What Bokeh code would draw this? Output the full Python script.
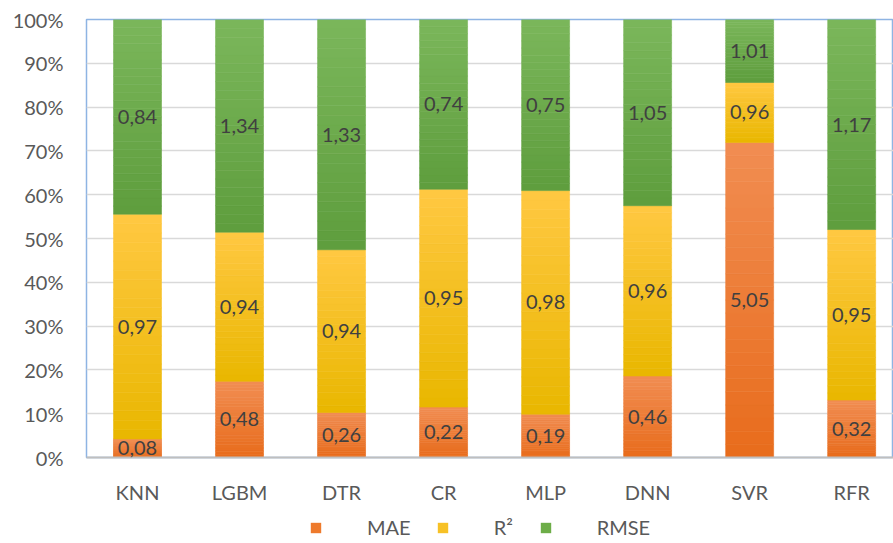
from bokeh.plotting import figure
from bokeh.layouts import column
from bokeh.models import (ColumnDataSource, FixedTicker, PrintfTickFormatter, Range1d,
                          Legend, LegendItem, LabelSet)
from bokeh.core.properties import value
from bokeh.embed import file_html
from bokeh.resources import INLINE

categories = ["KNN", "LGBM", "DTR", "CR", "MLP", "DNN", "SVR", "RFR"]
mae = [0.08, 0.48, 0.26, 0.22, 0.19, 0.46, 5.05, 0.32]
r2 = [0.97, 0.94, 0.94, 0.95, 0.98, 0.96, 0.96, 0.95]
rmse = [0.84, 1.34, 1.33, 0.74, 0.75, 1.05, 1.01, 1.17]
series_names = ["MAE", "R²", "RMSE"]
y_ticks = [0, 10, 20, 30, 40, 50, 60, 70, 80, 90, 100]

# (top colour, bottom colour, legend colour) per series
grad = [("#F18D52", "#E86C1C", "#EE7A2C"),
        ("#FFC842", "#E9B700", "#F7C126"),
        ("#7BB75B", "#5E9D3D", "#6DAD48")]
FONT = "Lato"
NSLICE = 24

x = list(range(len(categories)))
tot = [a + b + c for a, b, c in zip(mae, r2, rmse)]
p_mae = [a / t * 100 for a, t in zip(mae, tot)]
p_r2 = [b / t * 100 for b, t in zip(r2, tot)]

def fmt(v):
    return f"{v:.2f}".replace(".", ",")

def hex2rgb(h):
    return tuple(int(h[i:i + 2], 16) for i in (1, 3, 5))

def mix(c1, c2, t):
    a, b = hex2rgb(c1), hex2rgb(c2)
    return "#%02x%02x%02x" % tuple(round(a[i] + (b[i] - a[i]) * t) for i in range(3))

b0 = [0] * len(x)
t0 = p_mae
b1 = t0
t1 = [a + b for a, b in zip(p_mae, p_r2)]
b2 = t1
t2 = [100] * len(x)

p = figure(width=893, height=510, output_backend="svg", toolbar_location=None,
           x_range=Range1d(-0.5, 7.41), y_range=Range1d(0, 100),
           min_border_left=86, min_border_top=19, min_border_right=0, min_border_bottom=53)
p.outline_line_color = "#8EB4E3"
p.outline_line_width = 1.5

for (bot, top, vals), (ctop, cbot, _) in zip([(b0, t0, mae), (b1, t1, r2), (b2, t2, rmse)], grad):
    xs, bs, ts, cs = [], [], [], []
    for i in range(len(x)):
        h = top[i] - bot[i]
        for k in range(NSLICE):
            xs.append(x[i])
            bs.append(bot[i] + h * k / NSLICE)
            ts.append(bot[i] + h * (k + 1) / NSLICE)
            cs.append(mix(cbot, ctop, (k + 0.5) / NSLICE))
    gsrc = ColumnDataSource(dict(x=xs, bottom=bs, top=ts, c=cs))
    p.vbar(x="x", bottom="bottom", top="top", width=0.47, source=gsrc,
           fill_color="c", line_color="c", line_width=0.6)
    src = ColumnDataSource(dict(x=x, mid=[(a + b) / 2 for a, b in zip(bot, top)],
                                lab=[fmt(v) for v in vals]))
    ls = LabelSet(x="x", y="mid", text="lab", source=src, text_align="center",
                  text_baseline="middle", text_font=value(FONT), text_font_size="20px",
                  text_color="#404040")
    p.add_layout(ls)

p.xaxis.ticker = FixedTicker(ticks=x)
p.xaxis.major_label_overrides = {i: c for i, c in enumerate(categories)}
p.xaxis.major_tick_line_color = None
p.xaxis.minor_tick_line_color = None
p.xaxis.axis_line_color = "#BFBFBF"
p.xaxis.axis_line_width = 2
p.xaxis.major_label_text_font = FONT
p.xaxis.major_label_text_font_size = "20px"
p.xaxis.major_label_text_color = "#595959"
p.xaxis.major_label_standoff = 16

p.yaxis.ticker = FixedTicker(ticks=y_ticks)
p.yaxis.formatter = PrintfTickFormatter(format="%d%%")
p.yaxis.major_tick_line_color = None
p.yaxis.minor_tick_line_color = None
p.yaxis.axis_line_color = None
p.yaxis.major_label_text_font = FONT
p.yaxis.major_label_text_font_size = "20px"
p.yaxis.major_label_text_color = "#595959"
p.yaxis.major_label_standoff = 17

p.xgrid.grid_line_color = None
p.ygrid.grid_line_color = "#D9D9D9"
p.ygrid.grid_line_width = 1.5

# legend strip below the chart
lg = figure(width=893, height=33, output_backend="svg", toolbar_location=None,
            x_range=Range1d(0, 1), y_range=Range1d(0, 1), x_axis_type=None, y_axis_type=None,
            min_border=0)
lg.outline_line_color = None
lg.grid.visible = False
items = []
for name, (_, _, c) in zip(series_names, grad):
    r = lg.vbar(x=[5], top=[5], bottom=[4], width=0.1, fill_color=c, line_color=None)
    items.append(LegendItem(label=name, renderers=[r]))
legend = Legend(items=items, orientation="horizontal", location=(223, 4), label_standoff=45,
                spacing=25, glyph_width=13, glyph_height=13, label_text_font=FONT,
                label_text_font_size="20px", label_text_color="#595959",
                border_line_color=None, padding=0, margin=0, background_fill_alpha=0)
lg.add_layout(legend, "center")

layout = column(p, lg, spacing=0)
open("out.html", "w").write(file_html(layout, INLINE))
